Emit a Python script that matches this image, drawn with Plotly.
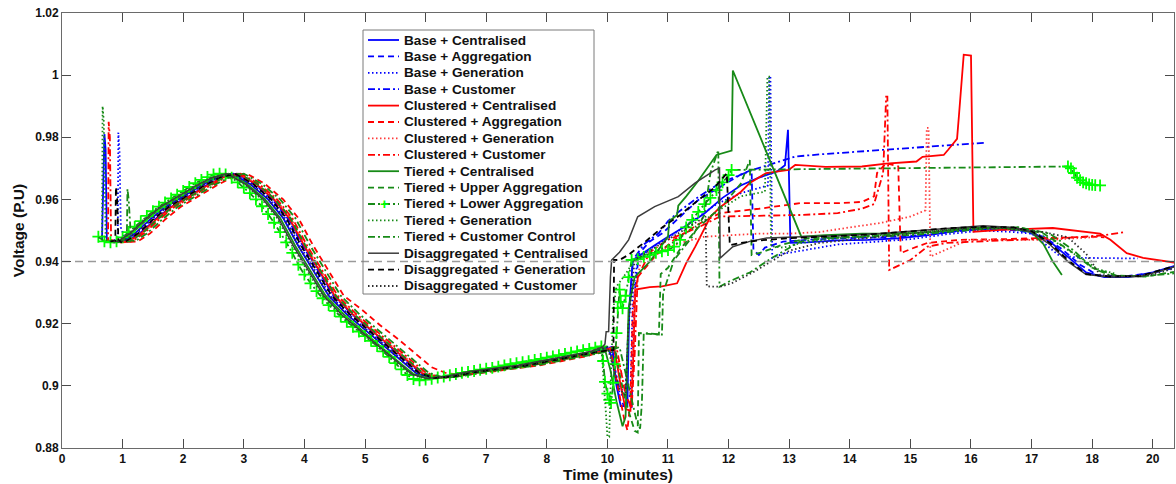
import plotly.graph_objects as go

# ---------------- axes / reference ----------------
X_TICK_POS = list(range(19))
X_TICK_TEXT = ["0", "1", "2", "3", "4", "5", "6", "7", "8", "10", "11", "12",
               "13", "14", "15", "16", "17", "18", "20"]
Y_TICK_VALS = [0.88, 0.90, 0.92, 0.94, 0.96, 0.98, 1.00, 1.02]
Y_TICK_TEXT = ["0.88", "0.9", "0.92", "0.94", "0.96", "0.98", "1", "1.02"]
X_RANGE = [0, 18.35]
Y_RANGE = [0.88, 1.02]
REF_X = [0, 18.35]
REF_Y = [0.94, 0.94]

NAMES = ["Base + Centralised", "Base + Aggregation", "Base + Generation", "Base + Customer",
         "Clustered + Centralised", "Clustered + Aggregation", "Clustered + Generation",
         "Clustered + Customer", "Tiered + Centralised", "Tiered + Upper Aggregation",
         "Tiered + Lower Aggregation", "Tiered + Generation", "Tiered + Customer Control",
         "Disaggregated + Centralised", "Disaggregated + Generation", "Disaggregated + Customer"]

# ---------------- series data (x in tick-position units, y in P.U) ----------------
S1_X = [0.66, 0.70, 0.72, 0.74, 0.85,
        1.0, 1.2, 1.45, 1.7, 2.0, 2.3, 2.55, 2.8, 3.1, 3.4, 3.65, 3.9, 4.15, 4.4, 4.7, 5.0, 5.3, 5.6, 5.85, 6.1, 6.4, 6.8, 7.2, 7.6, 8.0, 8.4, 8.8,
        9.0, 9.08, 9.15, 9.22, 9.33, 9.36, 9.42, 9.6, 9.8, 10.0, 10.3, 10.6, 10.9, 11.2, 11.5, 11.8, 11.93, 11.98, 12.02, 12.3,
        12.8, 13.3, 13.8, 14.3, 14.8, 15.2, 15.7, 16.0, 16.3, 16.6, 16.9, 17.2, 17.6, 18.0, 18.35]
S1_Y = [0.947, 0.981, 0.976, 0.947, 0.9462,
        0.9465, 0.9490, 0.9535, 0.9575, 0.9610, 0.9645, 0.9670, 0.9683, 0.9650, 0.9600, 0.9540, 0.9450, 0.9370, 0.9290, 0.9230, 0.9180, 0.9130, 0.9080, 0.9040, 0.9025, 0.9030, 0.9045, 0.9055, 0.9065, 0.9080, 0.9095, 0.9110,
        0.9125, 0.909, 0.900, 0.8935, 0.8935, 0.925, 0.9405, 0.943, 0.9455, 0.948, 0.9515, 0.9555, 0.9605, 0.9645, 0.967, 0.969, 0.971, 0.9824, 0.946, 0.9462,
        0.9468, 0.947, 0.9475, 0.9485, 0.950, 0.9505, 0.9505, 0.9495, 0.9465, 0.9415, 0.9365, 0.935, 0.935, 0.9365, 0.9385]

S2_X = [0.85,
        1.07, 1.27, 1.52, 1.77, 2.07, 2.37, 2.62, 2.87, 3.17, 3.47, 3.72, 3.97, 4.22, 4.47, 4.77, 5.07, 5.37, 5.67, 5.92, 6.17, 6.47, 6.87, 7.27, 7.67, 8.07, 8.47, 8.87,
        9.07, 9.12, 9.2, 9.28, 9.4, 9.45, 9.52, 9.7, 9.9, 10.2, 10.5, 10.9, 11.2, 11.38, 11.41, 11.5, 11.6, 11.9, 12.3, 12.8,
        13.5, 14.2, 14.8, 15.3, 15.8, 16.2, 16.5, 16.8, 17.1, 17.5, 18.0, 18.35]
S2_Y = [0.9462,
        0.9465, 0.9488, 0.9532, 0.9572, 0.9608, 0.9643, 0.9668, 0.9682, 0.9650, 0.9600, 0.9540, 0.9452, 0.9372, 0.9293, 0.9233, 0.9182, 0.9132, 0.9082, 0.9042, 0.9027, 0.9032, 0.9046, 0.9056, 0.9066, 0.9081, 0.9096, 0.9111,
        0.9125, 0.905, 0.896, 0.8935, 0.8932, 0.93, 0.9425, 0.9465, 0.949, 0.9545, 0.9598, 0.9645, 0.968, 0.9695, 0.9437, 0.9421, 0.9445, 0.9464, 0.947, 0.9475,
        0.9478, 0.9485, 0.9498, 0.9505, 0.950, 0.948, 0.944, 0.939, 0.9355, 0.9352, 0.9363, 0.938]

S3_X = [0.85, 0.92, 0.93, 0.95, 0.97, 1.0,
        1.03, 1.23, 1.48, 1.73, 2.03, 2.33, 2.58, 2.83, 3.13, 3.43, 3.68, 3.93, 4.18, 4.43, 4.73, 5.03, 5.33, 5.63, 5.88, 6.13, 6.43, 6.83, 7.23, 7.63, 8.03, 8.43, 8.83,
        9.03, 9.1, 9.2, 9.3, 9.38, 9.42, 9.5, 9.7, 10.0, 10.4, 10.8, 11.2, 11.5, 11.65, 11.67, 11.69, 11.72, 11.9, 12.2, 12.8,
        13.3, 14.0, 14.6, 15.2, 15.7, 16.0, 16.2, 16.45, 16.8, 17.3, 17.75]
S3_Y = [0.947, 0.9465, 0.9815, 0.975, 0.951, 0.9495,
        0.9465, 0.9490, 0.9535, 0.9575, 0.9610, 0.9645, 0.9670, 0.9683, 0.9650, 0.9600, 0.9540, 0.9450, 0.9370, 0.9290, 0.9230, 0.9180, 0.9130, 0.9080, 0.9040, 0.9025, 0.9030, 0.9045, 0.9055, 0.9065, 0.9080, 0.9095, 0.9110,
        0.9125, 0.906, 0.898, 0.8955, 0.897, 0.93, 0.9405, 0.944, 0.9475, 0.953, 0.9585, 0.962, 0.9635, 0.9645, 0.9996, 0.9996, 0.9412, 0.9425, 0.9435, 0.9455,
        0.9462, 0.9472, 0.9488, 0.950, 0.9495, 0.949, 0.946, 0.942, 0.9412, 0.941, 0.941]

S4_X = [0.9,
        1.08, 1.28, 1.53, 1.78, 2.08, 2.38, 2.63, 2.88, 3.18, 3.48, 3.73, 3.98, 4.23, 4.48, 4.78, 5.08, 5.38, 5.68, 5.93, 6.18, 6.48, 6.88, 7.28, 7.68, 8.08, 8.48, 8.88,
        9.08, 9.13, 9.2, 9.3, 9.35, 9.42, 9.6, 9.85, 10.0, 10.15, 10.5, 10.86, 11.4, 11.95, 12.1, 12.5,
        13.0, 13.5, 14.0, 14.5, 15.0, 15.26]
S4_Y = [0.9465,
        0.9465, 0.9490, 0.9535, 0.9575, 0.9610, 0.9645, 0.9670, 0.9683, 0.9652, 0.9602, 0.9542, 0.9452, 0.9372, 0.9292, 0.9232, 0.9182, 0.9132, 0.9082, 0.9042, 0.9027, 0.9031, 0.9046, 0.9056, 0.9066, 0.9081, 0.9096, 0.9111,
        0.9125, 0.905, 0.899, 0.8985, 0.92, 0.9405, 0.9455, 0.9492, 0.953, 0.9556, 0.9608, 0.9653, 0.9695, 0.9727, 0.9738, 0.9745,
        0.9752, 0.9758, 0.9765, 0.9772, 0.978, 0.9783]

S5_X = [0.85,
        1.1, 1.3, 1.55, 1.8, 2.1, 2.4, 2.65, 2.9, 3.2, 3.5, 3.75, 4.0, 4.25, 4.5, 4.8, 5.1, 5.4, 5.7, 5.95, 6.2, 6.5, 6.9, 7.3, 7.7, 8.1, 8.5, 8.9,
        9.1, 9.15, 9.22, 9.3, 9.38, 9.42, 9.46, 9.7, 9.9, 10.15, 10.3, 10.45, 10.7, 10.86, 11.02, 11.2, 11.35, 11.62, 11.99, 12.1,
        12.6, 13.2, 13.6, 14.1, 14.2, 14.55, 14.62, 14.7, 14.77, 14.8, 14.83, 14.88, 15.0, 15.04, 15.5, 16.35, 17.13, 17.3,
        17.57, 17.84, 18.35]
S5_Y = [0.9462,
        0.9465, 0.9490, 0.9535, 0.9575, 0.9610, 0.9645, 0.9670, 0.9683, 0.9650, 0.9600, 0.9540, 0.9450, 0.9370, 0.9290, 0.9230, 0.9180, 0.9130, 0.9080, 0.9040, 0.9025, 0.9030, 0.9045, 0.9055, 0.9065, 0.9080, 0.9095, 0.9110,
        0.9125, 0.908, 0.900, 0.8925, 0.892, 0.905, 0.931, 0.9318, 0.932, 0.933, 0.9395, 0.9448, 0.9544, 0.9575, 0.9598, 0.9624, 0.9653, 0.9685, 0.9695, 0.9711,
        0.9705, 0.9706, 0.9715, 0.9722, 0.9737, 0.9743, 0.9759, 0.978, 0.9795, 0.9867, 0.9953, 1.0066, 1.0063, 0.9496, 0.9502, 0.9508, 0.949, 0.947,
        0.9427, 0.9412, 0.9397]

S6_X = [0.95,
        1.25, 1.45, 1.7, 1.95, 2.25, 2.55, 2.8, 3.05, 3.35, 3.65, 3.9, 4.15, 4.4, 4.65, 4.95, 5.25, 5.55, 5.85, 6.1, 6.35, 6.65, 7.05, 7.45, 7.85, 8.25, 8.65,
        9.05, 9.12, 9.2, 9.28, 9.33, 9.38, 9.42, 9.5, 9.8, 10.1, 10.5, 10.86, 11.5, 12.18, 12.8, 13.2, 13.4, 13.45, 13.6, 13.8,
        13.84, 14.0, 14.28, 14.82, 15.5, 16.3, 17.0, 17.2]
S6_Y = [0.9462,
        0.9465, 0.9490, 0.9535, 0.9575, 0.9610, 0.9645, 0.9670, 0.9683, 0.9650, 0.9600, 0.9540, 0.9450, 0.9370, 0.9290, 0.9245, 0.9195, 0.9150, 0.9100, 0.9060, 0.9040, 0.9035, 0.9045, 0.9055, 0.9065, 0.9080, 0.9095,
        0.912, 0.905, 0.897, 0.889, 0.8857, 0.895, 0.925, 0.935, 0.942, 0.947, 0.952, 0.9556, 0.957, 0.9588, 0.9588, 0.9592, 0.961, 0.9685, 0.9717, 0.9706,
        0.9427, 0.944, 0.946, 0.947, 0.9472, 0.9475, 0.948, 0.9478]

S7_X = [0.9,
        1.12, 1.32, 1.57, 1.82, 2.12, 2.42, 2.67, 2.92, 3.22, 3.52, 3.77, 4.02, 4.27, 4.52, 4.82, 5.12, 5.42, 5.72, 5.97, 6.22, 6.52, 6.92, 7.32, 7.72, 8.12, 8.52, 8.92,
        9.12, 9.2, 9.3, 9.4, 9.45, 9.55, 9.8, 10.2, 10.6, 11.0, 11.5, 12.0, 12.5, 13.0, 13.5, 14.0,
        14.25, 14.27, 14.3, 14.33, 14.6, 14.95, 15.5, 16.3, 17.0, 17.2]
S7_Y = [0.9462,
        0.9465, 0.9489, 0.9533, 0.9573, 0.9609, 0.9644, 0.9669, 0.9683, 0.9651, 0.9601, 0.9541, 0.9451, 0.9371, 0.9291, 0.9231, 0.9181, 0.9131, 0.9081, 0.9041, 0.9026, 0.9031, 0.9045, 0.9055, 0.9066, 0.9080, 0.9096, 0.9111,
        0.9125, 0.906, 0.899, 0.8985, 0.93, 0.940, 0.943, 0.946, 0.948, 0.9485, 0.949, 0.949, 0.9495, 0.951, 0.9524, 0.9545,
        0.9565, 0.983, 0.983, 0.9416, 0.944, 0.947, 0.947, 0.947, 0.9478, 0.9485]

S8_X = [0.72, 0.76, 0.77, 0.79, 0.81, 0.95,
        1.15, 1.35, 1.6, 1.85, 2.15, 2.45, 2.7, 2.95, 3.25, 3.55, 3.8, 4.05, 4.3, 4.55, 4.85, 5.15, 5.45, 5.75, 6.0, 6.25, 6.55, 6.95, 7.35, 7.75, 8.15, 8.55, 8.95,
        9.15, 9.22, 9.3, 9.4, 9.45, 9.5, 9.7, 10.0, 10.5, 10.86, 11.5, 12.2, 12.8, 13.2, 13.4, 13.55,
        13.6, 13.62, 13.65, 14.0, 14.28, 14.6, 15.5, 16.5, 17.2, 17.54]
S8_Y = [0.947, 0.9465, 0.985, 0.980, 0.947, 0.9462,
        0.9465, 0.9490, 0.9535, 0.9575, 0.9610, 0.9645, 0.9670, 0.9683, 0.9650, 0.9600, 0.9540, 0.9450, 0.9370, 0.9290, 0.9232, 0.9183, 0.9133, 0.9083, 0.9043, 0.9027, 0.9031, 0.9046, 0.9056, 0.9066, 0.9081, 0.9096, 0.9111,
        0.9125, 0.905, 0.897, 0.893, 0.91, 0.935, 0.943, 0.947, 0.951, 0.9545, 0.9548, 0.955, 0.9556, 0.957, 0.9585, 0.9685,
        0.9931, 0.9931, 0.9373, 0.9405, 0.9448, 0.946, 0.9468, 0.9475, 0.9485, 0.9495]

S9_X = [0.82,
        0.95, 1.15, 1.4, 1.65, 1.95, 2.25, 2.5, 2.75, 3.05, 3.35, 3.6, 3.85, 4.1, 4.35, 4.65, 4.95, 5.25, 5.55, 5.8, 6.05, 6.35, 6.75, 7.15, 7.55, 7.95, 8.35, 8.75,
        8.95, 9.05, 9.15, 9.25, 9.3, 9.35, 9.45, 9.7, 9.85, 10.0, 10.02, 10.15, 10.17, 10.3, 10.5, 10.8, 11.05, 11.07,
        12.2, 12.6, 13.2, 13.8, 14.4, 15.0, 15.6, 16.0, 16.2, 16.35, 16.5]
S9_Y = [0.9462,
        0.9465, 0.9490, 0.9535, 0.9575, 0.9610, 0.9645, 0.9670, 0.9683, 0.9650, 0.9600, 0.9540, 0.9450, 0.9370, 0.9290, 0.9230, 0.9178, 0.9128, 0.9078, 0.9038, 0.9023, 0.9029, 0.9044, 0.9054, 0.9064, 0.9079, 0.9094, 0.9109,
        0.9125, 0.905, 0.895, 0.887, 0.89, 0.925, 0.935, 0.940, 0.944, 0.948, 0.953, 0.955, 0.958, 0.961, 0.966, 0.9743, 0.9757, 1.0015,
        0.948, 0.9485, 0.949, 0.949, 0.9495, 0.951, 0.9508, 0.9495, 0.9455, 0.940, 0.9357]

S10_X = [0.9,
         1.12, 1.32, 1.57, 1.82, 2.12, 2.42, 2.67, 2.92, 3.22, 3.52, 3.77, 4.02, 4.27, 4.52, 4.82, 5.12, 5.42, 5.72, 5.97, 6.22, 6.52, 6.92, 7.32, 7.72, 8.12, 8.52, 8.92,
         9.12, 9.2, 9.3, 9.45, 9.5, 9.52, 9.85, 9.88, 10.0, 10.2, 10.5, 10.9, 11.2, 11.35, 11.38, 11.55, 11.9, 12.3,
         13.0, 13.8, 14.5, 15.2, 15.8, 16.2, 16.6, 17.0, 17.4, 17.9, 18.35]
S10_Y = [0.9462,
         0.9465, 0.9490, 0.9535, 0.9575, 0.9610, 0.9645, 0.9670, 0.9683, 0.9650, 0.9600, 0.9540, 0.9450, 0.9370, 0.9290, 0.9230, 0.9180, 0.9130, 0.9080, 0.9040, 0.9025, 0.9030, 0.9045, 0.9055, 0.9065, 0.9080, 0.9095, 0.9110,
         0.9125, 0.904, 0.895, 0.8855, 0.885, 0.917, 0.9165, 0.936, 0.938, 0.944, 0.951, 0.958, 0.965, 0.9727, 0.9421, 0.943, 0.9455, 0.9475,
         0.948, 0.9488, 0.9498, 0.9508, 0.951, 0.949, 0.944, 0.938, 0.9355, 0.9352, 0.9367]

S11_X = [0.6, 0.7, 0.8,
         0.9, 1.0, 1.1, 1.2, 1.3, 1.4, 1.5, 1.6, 1.7, 1.8, 1.9, 2.0, 2.1, 2.2, 2.3, 2.4, 2.5, 2.6, 2.7, 2.8, 2.9, 3.0,
         3.1, 3.2, 3.3, 3.4, 3.5, 3.6, 3.7, 3.8, 3.9, 4.0, 4.1, 4.2, 4.3, 4.4, 4.5, 4.6, 4.7, 4.8, 4.9, 5.0,
         5.1, 5.2, 5.3, 5.4, 5.5, 5.6, 5.7, 5.8, 5.9, 6.0, 6.1, 6.2, 6.3, 6.4, 6.5, 6.6, 6.7, 6.8, 6.9, 7.0,
         7.1, 7.2, 7.3, 7.4, 7.5, 7.6, 7.7, 7.8, 7.9, 8.0, 8.1, 8.2, 8.3, 8.4, 8.5, 8.6, 8.7, 8.8, 8.9,
         8.93, 8.96, 9.0, 9.03, 9.06, 9.1, 9.12, 9.15, 9.17, 9.2, 9.22, 9.25, 9.3, 9.35, 9.4, 9.5, 9.6, 9.7, 9.8, 9.9,
         10.0, 10.1, 10.2, 10.3, 10.4, 10.5, 10.6, 10.7, 10.8, 10.9, 11.0, 11.05,
         16.6, 16.65, 16.7, 16.75, 16.8, 16.85, 16.9, 16.95, 17.0, 17.05, 17.13]
S11_Y = [0.948, 0.9465, 0.9462,
         0.9465, 0.9478, 0.9495, 0.9512, 0.9530, 0.9547, 0.9562, 0.9577, 0.9590, 0.9603, 0.9615, 0.9627, 0.9640, 0.9652, 0.9663, 0.9672, 0.9680, 0.9683, 0.9680, 0.9670, 0.9655, 0.9638,
         0.9620, 0.9600, 0.9578, 0.9553, 0.9525, 0.9495, 0.9462, 0.9428, 0.9390, 0.9358, 0.9330, 0.9305, 0.9282, 0.9260, 0.9241, 0.9223, 0.9206, 0.9190, 0.9175, 0.9160,
         0.9145, 0.9128, 0.9111, 0.9093, 0.9073, 0.9053, 0.9035, 0.9022, 0.9018, 0.9020, 0.9023, 0.9027, 0.9030, 0.9034, 0.9038, 0.9042, 0.9045, 0.9048, 0.9052, 0.9055,
         0.9058, 0.9062, 0.9066, 0.9070, 0.9073, 0.9076, 0.9079, 0.9083, 0.9087, 0.9091, 0.9095, 0.9099, 0.9103, 0.9107, 0.9111, 0.9115, 0.9119, 0.9123, 0.9127,
         0.908, 0.9013, 0.8975, 0.8955, 0.8945, 0.901, 0.907, 0.917, 0.925, 0.931, 0.927, 0.925, 0.929, 0.935, 0.9405, 0.9408, 0.9415, 0.9422, 0.9428, 0.9433,
         0.9437, 0.9448, 0.947, 0.951, 0.9534, 0.956, 0.9585, 0.9605, 0.963, 0.9655, 0.9678, 0.9695,
         0.9706, 0.970, 0.9685, 0.967, 0.9662, 0.9655, 0.9652, 0.9648, 0.9647, 0.9646, 0.9645]

S12_X = [0.6, 0.66, 0.67, 0.69, 0.72, 0.8,
         0.9, 1.1, 1.35, 1.6, 1.9, 2.2, 2.45, 2.7, 3.0, 3.3, 3.55, 3.8, 4.05, 4.3, 4.6, 4.9, 5.2, 5.5, 5.75, 6.0, 6.3, 6.7, 7.1, 7.5, 7.9, 8.3, 8.7,
         8.9, 8.95, 8.98, 9.0, 9.03, 9.06, 9.1, 9.15, 9.3, 9.45, 9.7, 10.0, 10.4, 10.8, 11.2, 11.6, 11.64, 11.67, 11.7, 11.9,
         12.2, 12.8, 13.5, 14.2, 14.8, 15.4, 15.9, 16.3, 16.7, 17.1, 17.4]
S12_Y = [0.9478, 0.947, 0.990, 0.985, 0.947, 0.9465,
         0.9465, 0.9490, 0.9535, 0.9575, 0.9610, 0.9645, 0.9670, 0.9683, 0.9650, 0.9600, 0.9540, 0.9450, 0.9370, 0.9290, 0.9228, 0.9177, 0.9127, 0.9077, 0.9037, 0.9022, 0.9028, 0.9044, 0.9054, 0.9064, 0.9079, 0.9094, 0.9109,
         0.9125, 0.900, 0.890, 0.8836, 0.8836, 0.905, 0.925, 0.932, 0.936, 0.9405, 0.9425, 0.945, 0.9505, 0.956, 0.961, 0.9625, 0.9995, 0.9995, 0.945, 0.9445,
         0.946, 0.9475, 0.9485, 0.9495, 0.9505, 0.951, 0.950, 0.9475, 0.9425, 0.9375, 0.936]

S13_X = [0.95, 1.07, 1.08, 1.1, 1.14,
         1.2, 1.4, 1.65, 1.9, 2.2, 2.5, 2.75, 3.0, 3.3, 3.6, 3.85, 4.1, 4.35, 4.6, 4.9, 5.2, 5.5, 5.8, 6.05, 6.3, 6.6, 7.0, 7.4, 7.8, 8.2, 8.6, 9.0,
         9.2, 9.28, 9.38, 9.48, 9.54, 9.57, 9.6, 9.9, 9.92, 10.1, 10.4, 10.6, 10.7, 10.83, 10.85, 11.0, 11.35, 11.7, 12.18, 12.6,
         13.3, 14.0, 14.6, 15.2, 15.8, 16.3, 16.7, 17.0, 17.3, 17.8, 18.35]
S13_Y = [0.9465, 0.9475, 0.9634, 0.960, 0.947,
         0.9465, 0.9490, 0.9535, 0.9575, 0.9610, 0.9645, 0.9670, 0.9683, 0.9650, 0.9600, 0.9540, 0.9450, 0.9370, 0.9290, 0.9232, 0.9182, 0.9132, 0.9082, 0.9042, 0.9026, 0.9031, 0.9045, 0.9055, 0.9065, 0.9080, 0.9095, 0.9110,
         0.9125, 0.906, 0.898, 0.889, 0.8862, 0.895, 0.917, 0.9165, 0.930, 0.9405, 0.948, 0.955, 0.9685, 0.9759, 0.9319, 0.9335, 0.9365, 0.941, 0.9464, 0.9475,
         0.948, 0.9485, 0.9495, 0.9505, 0.951, 0.949, 0.9435, 0.938, 0.9355, 0.9352, 0.9362]

S14_X = [0.8,
         0.92, 1.12, 1.37, 1.62, 1.92, 2.22, 2.47, 2.72, 3.02, 3.32, 3.57, 3.82, 4.07, 4.32, 4.62, 4.92, 5.22, 5.52, 5.77, 6.02, 6.32, 6.72, 7.12, 7.52, 7.92, 8.32, 8.72,
         8.92, 8.96, 8.98, 9.02, 9.05, 9.07, 9.2, 9.35, 9.5, 9.78, 10.17, 10.45, 10.78, 10.85, 10.86, 11.07, 11.35, 11.63, 12.2, 12.8,
         13.5, 14.2, 14.8, 15.2, 15.7, 16.0, 16.3, 16.6, 16.9, 17.3, 17.8, 18.35]
S14_Y = [0.9465,
         0.9465, 0.9490, 0.9535, 0.9575, 0.9610, 0.9645, 0.9670, 0.9683, 0.9650, 0.9600, 0.9540, 0.9450, 0.9370, 0.9290, 0.9228, 0.9178, 0.9128, 0.9078, 0.9038, 0.9024, 0.9030, 0.9046, 0.9056, 0.9066, 0.9081, 0.9096, 0.9111,
         0.9125, 0.9135, 0.9174, 0.9175, 0.935, 0.9405, 0.943, 0.947, 0.9544, 0.9577, 0.9609, 0.9653, 0.9695, 0.9701, 0.9411, 0.9448, 0.9465, 0.9476, 0.948, 0.9483,
         0.949, 0.950, 0.951, 0.9515, 0.951, 0.9495, 0.9455, 0.940, 0.9358, 0.935, 0.9352, 0.9383]

S15_X = [0.8, 0.88, 0.89, 0.91, 0.93, 0.98,
         1.05, 1.25, 1.5, 1.75, 2.05, 2.35, 2.6, 2.85, 3.15, 3.45, 3.7, 3.95, 4.2, 4.45, 4.75, 5.05, 5.35, 5.65, 5.9, 6.15, 6.45, 6.85, 7.25, 7.65, 8.05, 8.45, 8.85,
         9.05, 9.1, 9.11, 9.2, 9.35, 9.6, 9.92, 10.2, 10.5, 10.75, 10.97, 11.02, 11.2, 11.5, 12.0, 12.6,
         13.3, 14.0, 14.6, 15.2, 15.7, 16.0, 16.3, 16.6, 16.9, 17.3, 17.8, 18.35]
S15_Y = [0.9465, 0.9467, 0.964, 0.960, 0.947, 0.9462,
         0.9465, 0.9490, 0.9535, 0.9575, 0.9610, 0.9645, 0.9670, 0.9683, 0.9650, 0.9600, 0.9540, 0.9450, 0.9370, 0.9290, 0.9230, 0.9180, 0.9130, 0.9080, 0.9040, 0.9025, 0.9030, 0.9045, 0.9055, 0.9065, 0.9080, 0.9095, 0.9110,
         0.9115, 0.9115, 0.9405, 0.9405, 0.9422, 0.946, 0.9512, 0.955, 0.9598, 0.9635, 0.9684, 0.9453, 0.946, 0.9468, 0.9475, 0.948,
         0.9487, 0.9497, 0.9507, 0.9512, 0.951, 0.9498, 0.946, 0.9405, 0.936, 0.9352, 0.9354, 0.9385]

S16_X = [0.85,
         1.0, 1.2, 1.45, 1.7, 2.0, 2.3, 2.55, 2.8, 3.1, 3.4, 3.65, 3.9, 4.15, 4.4, 4.7, 5.0, 5.3, 5.6, 5.85, 6.1, 6.4, 6.8, 7.2, 7.6, 8.0, 8.4, 8.8,
         9.0, 9.1, 9.2, 9.3, 9.35, 9.45, 9.7, 10.0, 10.3, 10.62, 10.64, 10.86, 11.05, 11.4, 11.7, 12.0, 12.5,
         13.2, 14.0, 14.8, 15.5, 16.2, 16.6, 16.9, 17.13, 17.5, 18.0, 18.35]
S16_Y = [0.9465,
         0.9465, 0.9488, 0.9533, 0.9573, 0.9608, 0.9644, 0.9669, 0.9683, 0.9651, 0.9601, 0.9541, 0.9451, 0.9371, 0.9291, 0.9231, 0.9181, 0.9131, 0.9081, 0.9041, 0.9026, 0.9030, 0.9045, 0.9055, 0.9065, 0.9080, 0.9095, 0.9110,
         0.9125, 0.906, 0.899, 0.897, 0.92, 0.9405, 0.9435, 0.947, 0.9505, 0.9545, 0.932, 0.9319, 0.933, 0.9365, 0.940, 0.9435, 0.946,
         0.9475, 0.949, 0.9505, 0.9508, 0.9495, 0.9478, 0.9425, 0.9357, 0.9352, 0.9358, 0.9378]

SERIES_X = [S1_X, S2_X, S3_X, S4_X, S5_X, S6_X, S7_X, S8_X,
            S9_X, S10_X, S11_X, S12_X, S13_X, S14_X, S15_X, S16_X]
SERIES_Y = [S1_Y, S2_Y, S3_Y, S4_Y, S5_Y, S6_Y, S7_Y, S8_Y,
            S9_Y, S10_Y, S11_Y, S12_Y, S13_Y, S14_Y, S15_Y, S16_Y]

# ---------------- styles ----------------
BLUE, RED, GREEN, BRIGHT = "#0000ff", "#ff0000", "#178a17", "#00ff00"
DASH = "6px,4px"
DOT = "1.5px,2.5px"
DASHDOT = "7px,3px,2px,3px"
LW = 1.8
STYLES = [
    (BLUE, "solid", LW), (BLUE, DASH, LW), (BLUE, DOT, LW), (BLUE, DASHDOT, LW),
    (RED, "solid", LW), (RED, DASH, LW), ("#ff3a3a", DOT, LW), (RED, DASHDOT, LW),
    (GREEN, "solid", LW), (GREEN, DASH, LW), (GREEN, DASHDOT, LW), (GREEN, DOT, LW),
    (GREEN, DASHDOT, LW),
    ("#3c3c3c", "solid", 1.5), ("#000000", DASH, LW), ("#303030", DOT, LW),
]

FONT = "Liberation Sans, Arial, sans-serif"

fig = go.Figure()
for i, name in enumerate(NAMES):
    xs, ys = SERIES_X[i], SERIES_Y[i]
    assert len(xs) == len(ys), (name, len(xs), len(ys))
    color, dash, width = STYLES[i]
    kw = dict(x=xs, y=ys, name=name, showlegend=False,
              line=dict(color=color, dash=dash, width=width))
    if name == "Tiered + Lower Aggregation":
        kw["mode"] = "lines+markers"
        kw["marker"] = dict(symbol="cross-thin", size=8.5, color=BRIGHT,
                            line=dict(color=BRIGHT, width=1.8))
    else:
        kw["mode"] = "lines"
    fig.add_trace(go.Scatter(**kw))

fig.add_trace(go.Scatter(x=REF_X, y=REF_Y, mode="lines", showlegend=False,
                         name="Limit", hoverinfo="skip",
                         line=dict(color="#9a9a9a", dash="8px,5px", width=1.6)))

# ---------------- manual legend (compact rows, like the original) ----------------
L, T, W, H = 62, 13, 1112, 435          # plot area in pixels
def px(xp):
    return (xp - L) / W
def py(yp):
    return (T + H - yp) / H

shapes = [dict(type="rect", xref="paper", yref="paper",
               x0=px(363), x1=px(594), y0=py(294), y1=py(30),
               line=dict(color="#7a7a7a", width=1), fillcolor="rgba(0,0,0,0)",
               layer="above")]
annotations = []
for i, name in enumerate(NAMES):
    yc = 40 + 16.4 * i
    color, dash, width = STYLES[i]
    shapes.append(dict(type="line", xref="paper", yref="paper",
                       x0=px(368), x1=px(399), y0=py(yc), y1=py(yc),
                       line=dict(color=color, dash=dash, width=width), layer="above"))
    annotations.append(dict(xref="paper", yref="paper", x=px(402), y=py(yc),
                            xanchor="left", yanchor="middle", showarrow=False,
                            text=name, font=dict(family=FONT, size=13.6,
                                                 color="#111111", weight="bold")))
    if name == "Tiered + Lower Aggregation":
        annotations.append(dict(xref="paper", yref="paper", x=px(384), y=py(yc),
                                xanchor="center", yanchor="middle", showarrow=False,
                                text="+", font=dict(family=FONT, size=15,
                                                    color=BRIGHT, weight="bold")))

axis_common = dict(showgrid=False, zeroline=False, showline=True, linecolor="#6a6a6a",
                   linewidth=1, mirror="ticks", ticks="inside", ticklen=9,
                   tickwidth=1, tickcolor="#4a4a4a",
                   tickfont=dict(family=FONT, size=12, color="#111111", weight="bold"))

fig.update_layout(
    width=1176, height=484,
    margin=dict(l=L, r=2, t=T, b=484 - T - H),
    paper_bgcolor="white", plot_bgcolor="white",
    showlegend=False,
    shapes=shapes, annotations=annotations,
    xaxis=dict(range=X_RANGE, tickmode="array", tickvals=X_TICK_POS, ticktext=X_TICK_TEXT,
               title=dict(text="Time (minutes)", standoff=2,
                          font=dict(family=FONT, size=15.5, color="#111111", weight="bold")),
               **axis_common),
    yaxis=dict(range=Y_RANGE, tickmode="array", tickvals=Y_TICK_VALS, ticktext=Y_TICK_TEXT,
               title=dict(text="Voltage (P.U)", standoff=6,
                          font=dict(family=FONT, size=15.5, color="#111111", weight="bold")),
               **axis_common),
)

fig.write_html("out.html", config={"displayModeBar": False},
               post_script="document.body.style.margin='0';")
